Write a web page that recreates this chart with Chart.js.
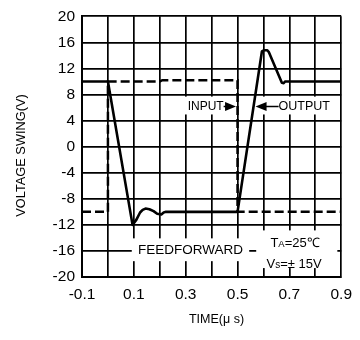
<!DOCTYPE html>
<html>
<head>
<meta charset="utf-8">
<script src="https://cdn.jsdelivr.net/npm/chart.js@4.4.1/dist/chart.umd.min.js"></script>
<style>
  html, body { margin: 0; padding: 0; background: #fff; }
  #wrap { width: 360px; height: 340px; position: relative; }
</style>
</head>
<body>
<div id="wrap"><canvas id="swingChart"></canvas></div>
<script>
// Gridline ticks and their labels (only every other time tick is labelled)
const xTicks = [-0.1, 0, 0.1, 0.2, 0.3, 0.4, 0.5, 0.6, 0.7, 0.8, 0.9];
const xTickLabels = ['-0.1', '', '0.1', '', '0.3', '', '0.5', '', '0.7', '', '0.9'];
const yTicks = [20, 16, 12, 8, 4, 0, -4, -8, -12, -16, -20];
const yTickLabels = ['20', '16', '12', '8', '4', '0', '-4', '-8', '-12', '-16', '-20'];

// Input square step (dashed)
const inputTime = [-0.1, 0, 0, 0.2, 0.21, 0.5, 0.5, 0.9];
const inputVolts = [-10, -10, 10, 10, 10.2, 10.2, -10, -10];

// Output response (solid)
const outputTime = [-0.1, 0, 0.095, 0.11, 0.124, 0.134, 0.145, 0.16, 0.176, 0.19, 0.206, 0.215, 0.224,
                    0.5, 0.594, 0.603, 0.614, 0.621, 0.671, 0.678, 0.684, 0.9];
const outputVolts = [10, 10, -12, -11.2, -10.1, -9.7, -9.5, -9.6, -9.9, -10.3, -10.4, -10.1, -10,
                     -10, 14.6, 14.8, 14.8, 14.5, 9.8, 9.75, 10, 10];

const FONT = '"Liberation Sans", Arial, sans-serif';

function toPoints(xs, ys) {
    return xs.map((t, i) => ({ x: t, y: ys[i] }));
}

// find where the output trace crosses a voltage level between two times
function outputTimeAt(level, from, to) {
    for (let i = 1; i < outputTime.length; i++) {
        const t0 = outputTime[i - 1], t1 = outputTime[i];
        const v0 = outputVolts[i - 1], v1 = outputVolts[i];
        if (t0 >= from && t1 <= to && (v0 - level) * (v1 - level) <= 0 && v0 !== v1) {
            return t0 + (level - v0) / (v1 - v0) * (t1 - t0);
        }
    }
    return from;
}

function drawArrowHead(ctx, tipX, tipY, dir) {
    // dir = +1 points right, -1 points left
    ctx.beginPath();
    ctx.moveTo(tipX, tipY);
    ctx.lineTo(tipX - dir * 11, tipY - 4.5);
    ctx.lineTo(tipX - dir * 11, tipY + 4.5);
    ctx.closePath();
    ctx.fill();
}

function drawMixed(ctx, parts, cx, cy) {
    // parts: [text, size] drawn one after another on a common baseline, centred as a group
    let total = 0;
    parts.forEach(p => { ctx.font = p[1] + 'px ' + FONT; total += ctx.measureText(p[0]).width; });
    let x = cx - total / 2;
    const baseline = cy + 4.7;
    ctx.textBaseline = 'alphabetic';
    parts.forEach(p => {
        ctx.font = p[1] + 'px ' + FONT;
        ctx.fillText(p[0], x, baseline);
        x += ctx.measureText(p[0]).width;
    });
    ctx.textBaseline = 'middle';
}

const overlayPlugin = {
    id: 'overlay',
    beforeDatasetsDraw(chart) {
        const ctx = chart.ctx;
        const px = t => chart.scales.x.getPixelForValue(t);
        const py = v => chart.scales.y.getPixelForValue(v);
        const labelV = 6.16;
        const inputTip = px(0.5) - 1.5;
        const outputTip = px(outputTimeAt(labelV, 0.5, 0.6)) + 2;

        ctx.save();
        // white backgrounds over the grid
        ctx.fillStyle = '#fff';
        const box = (t0, t1, v0, v1) => ctx.fillRect(px(t0), py(v0), px(t1) - px(t0), py(v1) - py(v0));
        ctx.fillRect(px(0.296), py(7.68), inputTip - px(0.296), py(4.94) - py(7.68));
        ctx.fillRect(outputTip, py(7.68), px(0.88) - outputTip, py(4.94) - py(7.68));
        box(0.092, 0.545, -14.07, -17.57);
        box(0.572, 0.885, -12.85, -18.63);

        ctx.fillStyle = '#000';
        ctx.strokeStyle = '#000';
        ctx.textBaseline = 'middle';
        ctx.textAlign = 'left';
        const ly = py(labelV);

        // INPUT ->
        ctx.font = '12px ' + FONT;
        const inLeft = px(0.3075);
        ctx.fillText('INPUT', inLeft, ly);
        const inRight = inLeft + ctx.measureText('INPUT').width;
        ctx.lineWidth = 1.5;
        ctx.beginPath();
        ctx.moveTo(inRight, ly);
        ctx.lineTo(inputTip - 8, ly);
        ctx.stroke();
        drawArrowHead(ctx, inputTip, ly, 1);

        // <- OUTPUT
        ctx.font = '12.5px ' + FONT;
        const outLeft = px(0.6585);
        ctx.fillText('OUTPUT', outLeft, ly);
        ctx.beginPath();
        ctx.moveTo(outputTip + 8, ly);
        ctx.lineTo(outLeft, ly);
        ctx.stroke();
        drawArrowHead(ctx, outputTip, ly, -1);

        // condition labels
        ctx.textAlign = 'center';
        ctx.font = '13.5px ' + FONT;
        ctx.fillText('FEEDFORWARD', px(0.319), py(-15.9));
        ctx.textAlign = 'left';
        drawMixed(ctx, [['T', 13], ['A', 9.5], ['=25℃', 13]], px(0.722), py(-14.63));
        drawMixed(ctx, [['V', 13], ['s', 10], ['=± 15V', 13]], px(0.718), py(-17.92));
        ctx.restore();
    },
    afterDraw(chart) {
        const ctx = chart.ctx;
        ctx.save();
        ctx.fillStyle = '#000';
        ctx.textAlign = 'center';
        ctx.textBaseline = 'middle';
        ctx.font = '12.5px ' + FONT;
        ctx.fillText('TIME(μ s)', 216.5, 320);
        ctx.translate(21, 155.5);
        ctx.rotate(-Math.PI / 2);
        ctx.font = '12.8px ' + FONT;
        ctx.fillText('VOLTAGE SWING(V)', 0, 0);
        ctx.restore();
    }
};

const gridStyle = { color: '#000', lineWidth: 1.7, drawTicks: false };
const borderStyle = { color: '#000', width: 2 };

new Chart(document.getElementById('swingChart'), {
    type: 'line',
    data: {
        datasets: [
            {
                label: 'Input',
                data: toPoints(inputTime, inputVolts),
                borderColor: '#000',
                borderWidth: 2.5,
                borderDash: [9, 4],
                pointRadius: 0,
                tension: 0,
                fill: false
            },
            {
                label: 'Output',
                data: toPoints(outputTime, outputVolts),
                borderColor: '#000',
                borderWidth: 2.6,
                borderJoinStyle: 'round',
                pointRadius: 0,
                tension: 0,
                fill: false
            }
        ]
    },
    options: {
        responsive: true,
        maintainAspectRatio: false,
        animation: false,
        layout: { padding: { top: 14, right: 13, bottom: 0, left: 0 } },
        plugins: {
            legend: { display: false },
            tooltip: { enabled: false }
        },
        scales: {
            x: {
                type: 'linear',
                min: -0.1,
                max: 0.9,
                afterBuildTicks: s => { s.ticks = xTicks.map(v => ({ value: v })); },
                afterFit: s => { s.height = 63; },
                grid: gridStyle,
                border: borderStyle,
                ticks: {
                    autoSkip: false,
                    maxRotation: 0,
                    padding: 8,
                    color: '#000',
                    font: { family: FONT, size: 15.5 },
                    callback: (v, i) => xTickLabels[i]
                }
            },
            y: {
                type: 'linear',
                min: -20,
                max: 20,
                afterBuildTicks: s => { s.ticks = yTicks.map(v => ({ value: v })); },
                afterFit: s => { s.width = 82; },
                grid: gridStyle,
                border: borderStyle,
                ticks: {
                    autoSkip: false,
                    padding: 7,
                    color: '#000',
                    font: { family: FONT, size: 15.5 },
                    callback: (v, i) => yTickLabels[i]
                }
            }
        }
    },
    plugins: [overlayPlugin]
});
</script>
</body>
</html>
